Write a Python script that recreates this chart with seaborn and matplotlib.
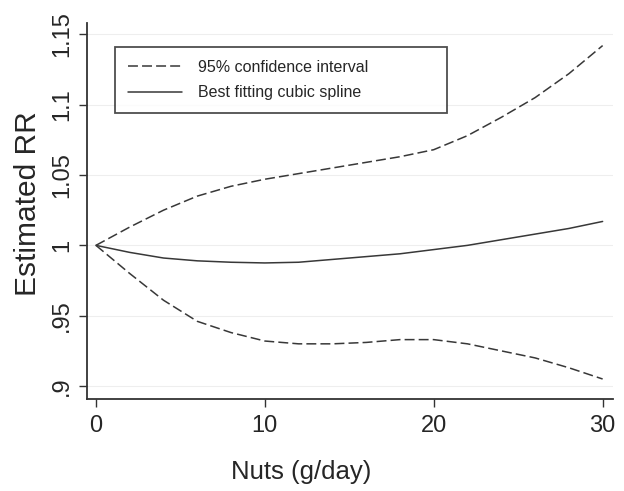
import numpy as np
import pandas as pd
import matplotlib
matplotlib.use('Agg')
import matplotlib.pyplot as plt
import seaborn as sns

# values
nuts = [0, 2, 4, 6, 8, 10, 12, 14, 16, 18, 20, 22, 24, 26, 28, 30]
rr_spline = [1.0, 0.995, 0.991, 0.989, 0.988, 0.9875, 0.988, 0.990, 0.992, 0.994,
             0.997, 1.000, 1.004, 1.008, 1.012, 1.017]
ci_upper = [1.0, 1.013, 1.025, 1.035, 1.042, 1.047, 1.051, 1.055, 1.059, 1.063,
            1.068, 1.078, 1.091, 1.105, 1.122, 1.142]
ci_lower = [1.0, 0.980, 0.961, 0.946, 0.938, 0.932, 0.930, 0.930, 0.931, 0.933,
            0.933, 0.930, 0.925, 0.920, 0.913, 0.905]
y_ticks = [0.9, 0.95, 1.0, 1.05, 1.1, 1.15]
y_tick_labels = ['.9', '.95', '1', '1.05', '1.1', '1.15']
x_ticks = [0, 10, 20, 30]

sns.set_style('white')
plt.rcParams['font.family'] = ['Liberation Sans', 'DejaVu Sans']

fig = plt.figure(figsize=(6.24, 4.91), dpi=100)
ax = fig.add_axes([0.1394, 0.1874, 0.8426, 0.7656])

line_col = '#383838'
dash = (0, (6.5, 2.7))
sns.lineplot(x=nuts, y=ci_upper, ax=ax, color=line_col, linewidth=1.1,
             linestyle=dash, label='95% confidence interval')
sns.lineplot(x=nuts, y=rr_spline, ax=ax, color=line_col, linewidth=1.1,
             label='Best fitting cubic spline')
sns.lineplot(x=nuts, y=ci_lower, ax=ax, color=line_col, linewidth=1.1,
             linestyle=dash)

ax.set_xlim(-0.53, 30.6)
ax.set_ylim(0.8908, 1.158)
ax.set_yticks(y_ticks)
ax.set_yticklabels(y_tick_labels, rotation=90, va='center')
ax.set_xticks(x_ticks)
ax.grid(axis='y', color='#eeeeee', linewidth=0.8)
ax.tick_params(axis='both', direction='out', length=6, width=1, color='#333333',
               labelsize=17, left=True, bottom=True)
ax.tick_params(axis='x', pad=5.5)
ax.tick_params(axis='y', pad=4)
for s in ['top', 'right']:
    ax.spines[s].set_visible(False)
for s in ['left', 'bottom']:
    ax.spines[s].set_color('#333333')
    ax.spines[s].set_linewidth(1.3)

ax.set_xlabel('Nuts (g/day)', fontsize=18.5, va='baseline')
ax.xaxis.set_label_coords(0.407, -0.212)
ax.set_ylabel('Estimated RR', fontsize=21.5, va='center')
ax.yaxis.set_label_coords(-0.113, 0.52)

leg = ax.legend(loc='upper left', bbox_to_anchor=(0.0532, 0.5, 0.631, 0.436),
                mode='expand', fontsize=11.5, frameon=True, fancybox=False,
                edgecolor='#222222', handlelength=3.4, handletextpad=1.0,
                borderpad=0.8, labelspacing=0.65, borderaxespad=0)
leg.get_frame().set_linewidth(1.3)

fig.savefig('out.png', dpi=100)
